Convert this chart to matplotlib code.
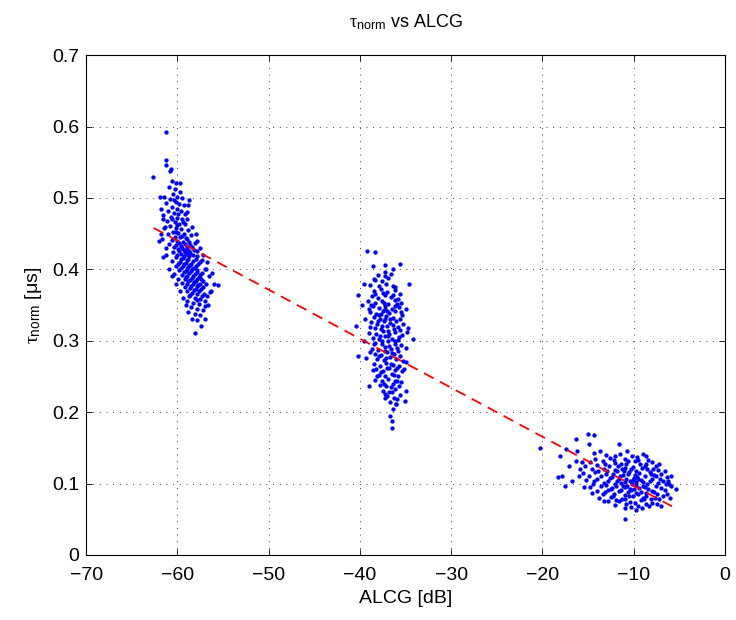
import matplotlib.pyplot as plt
import numpy as np

plt.rcParams['font.family'] = ['Liberation Sans', 'DejaVu Sans']
plt.rcParams['mathtext.fontset'] = 'custom'
plt.rcParams['mathtext.rm'] = 'Liberation Sans'
plt.rcParams['mathtext.it'] = 'Liberation Serif'

near_60 = [
    (-61.2, 0.592), (-62.7, 0.529), (-61.2, 0.553), (-61.3, 0.546), (-60.8, 0.538), (-60.6, 0.524),
    (-60.1, 0.521), (-60.9, 0.515), (-60.3, 0.512), (-59.7, 0.509), (-60.5, 0.505), (-60.0, 0.502),
    (-59.5, 0.500), (-60.8, 0.498), (-61.3, 0.493), (-60.2, 0.495), (-59.8, 0.491), (-59.3, 0.490),
    (-60.6, 0.487), (-60.0, 0.485), (-61.0, 0.482), (-59.6, 0.482), (-60.4, 0.479), (-59.2, 0.478),
    (-61.6, 0.476), (-60.7, 0.474), (-60.0, 0.472), (-59.5, 0.470), (-58.9, 0.470), (-61.1, 0.468),
    (-60.3, 0.466), (-59.8, 0.464), (-59.2, 0.463), (-60.8, 0.461), (-61.5, 0.458), (-60.1, 0.458),
    (-59.6, 0.456), (-58.8, 0.455), (-60.5, 0.453), (-59.9, 0.451), (-59.3, 0.450), (-61.0, 0.449),
    (-58.5, 0.448), (-60.3, 0.446), (-59.7, 0.445), (-59.1, 0.444), (-61.7, 0.443), (-60.6, 0.441),
    (-60.0, 0.440), (-59.4, 0.439), (-58.7, 0.439), (-58.1, 0.437), (-60.9, 0.436), (-60.2, 0.434),
    (-59.6, 0.433), (-59.0, 0.432), (-58.4, 0.431), (-61.3, 0.430), (-59.9, 0.428), (-59.3, 0.427),
    (-58.7, 0.426), (-57.9, 0.425), (-60.5, 0.424), (-59.6, 0.422), (-59.0, 0.421), (-58.3, 0.420),
    (-61.6, 0.417), (-60.1, 0.417), (-59.4, 0.416), (-58.8, 0.415), (-58.0, 0.414), (-57.3, 0.413),
    (-60.6, 0.412), (-59.7, 0.410), (-59.1, 0.409), (-58.5, 0.408), (-57.7, 0.407), (-60.2, 0.405),
    (-59.4, 0.404), (-58.8, 0.403), (-58.2, 0.402), (-56.9, 0.401), (-59.8, 0.399), (-59.1, 0.398),
    (-58.5, 0.397), (-57.9, 0.396), (-57.3, 0.395), (-60.4, 0.393), (-59.5, 0.392), (-58.9, 0.391),
    (-58.3, 0.390), (-57.6, 0.389), (-59.9, 0.387), (-59.2, 0.386), (-58.6, 0.385), (-58.0, 0.384),
    (-57.2, 0.383), (-59.5, 0.381), (-58.9, 0.380), (-58.3, 0.379), (-57.7, 0.378), (-55.5, 0.378),
    (-59.2, 0.375), (-58.6, 0.374), (-58.0, 0.373), (-57.4, 0.372), (-56.4, 0.368), (-59.0, 0.369),
    (-58.4, 0.367), (-57.8, 0.366), (-57.1, 0.365), (-58.7, 0.362), (-58.1, 0.360), (-57.5, 0.359),
    (-58.9, 0.355), (-58.3, 0.353), (-57.6, 0.352), (-57.0, 0.356), (-58.5, 0.347), (-57.8, 0.345),
    (-57.2, 0.343), (-58.1, 0.338), (-57.5, 0.336), (-57.9, 0.329), (-57.4, 0.321), (-58.1, 0.311),
    (-57.0, 0.348), (-56.8, 0.362), (-61.9, 0.502), (-61.5, 0.502), (-61.8, 0.485), (-61.6, 0.470),
    (-58.7, 0.497), (-58.8, 0.490), (-59.7, 0.521), (-60.7, 0.541),
    (-60.4, 0.497), (-59.9, 0.478), (-60.6, 0.470), (-59.4, 0.466), (-60.0, 0.462), (-59.5, 0.447),
    (-60.2, 0.452), (-58.9, 0.443), (-59.8, 0.437), (-59.2, 0.435), (-58.6, 0.434), (-60.4, 0.431),
    (-59.5, 0.430), (-58.9, 0.428), (-58.2, 0.427), (-59.8, 0.425), (-59.2, 0.424), (-58.6, 0.423),
    (-60.0, 0.420), (-59.3, 0.419), (-58.7, 0.418), (-57.9, 0.418), (-59.6, 0.414), (-59.0, 0.413),
    (-58.3, 0.411), (-57.5, 0.410), (-59.9, 0.408), (-59.3, 0.407), (-58.6, 0.406), (-58.0, 0.405),
    (-59.6, 0.402), (-59.0, 0.401), (-58.4, 0.400), (-57.8, 0.399), (-59.3, 0.396), (-58.7, 0.395),
    (-58.1, 0.394), (-57.5, 0.392), (-59.1, 0.389), (-58.4, 0.388), (-57.9, 0.387), (-57.4, 0.386),
    (-58.8, 0.383), (-58.2, 0.382), (-57.5, 0.380), (-58.5, 0.377), (-57.9, 0.376), (-57.2, 0.375),
    (-58.2, 0.371), (-57.6, 0.370), (-58.6, 0.364), (-57.9, 0.357), (-57.3, 0.362),
    (-57.0, 0.400), (-56.5, 0.390), (-56.7, 0.410), (-57.2, 0.420), (-57.5, 0.430), (-56.9, 0.380),
    (-56.2, 0.395), (-57.8, 0.440), (-58.0, 0.450), (-58.4, 0.460), (-58.9, 0.480), (-62.0, 0.440),
    (-61.8, 0.450), (-61.4, 0.460), (-61.2, 0.420), (-60.9, 0.400), (-60.6, 0.390), (-60.2, 0.380),
    (-59.7, 0.370), (-59.4, 0.360), (-59.1, 0.350), (-58.8, 0.340), (-58.4, 0.330), (-57.0, 0.330),
    (-56.6, 0.350), (-56.3, 0.370), (-56.0, 0.380),
]

near_37 = [
    (-39.2, 0.426), (-38.4, 0.424), (-35.6, 0.408), (-38.6, 0.404), (-37.3, 0.406), (-40.2, 0.364),
    (-40.4, 0.321), (-40.2, 0.279), (-34.2, 0.302), (-36.5, 0.178), (-36.5, 0.187), (-36.7, 0.195),
    (-39.0, 0.237), (-34.8, 0.312), (-35.0, 0.344), (-38.5, 0.387), (-36.4, 0.400), (-37.2, 0.390),
    (-36.1, 0.375), (-35.5, 0.353), (-34.7, 0.318), (-39.0, 0.345), (-39.4, 0.330), (-39.3, 0.276),
    (-35.1, 0.216), (-36.0, 0.211), (-35.0, 0.229), (-37.3, 0.220),
    (-38.3, 0.385), (-37.6, 0.383), (-36.9, 0.388),
    (-38.9, 0.378), (-37.9, 0.376), (-37.1, 0.380), (-36.4, 0.377),
    (-38.5, 0.370), (-37.7, 0.372), (-37.0, 0.368), (-36.2, 0.371), (-35.6, 0.366),
    (-38.7, 0.362), (-38.0, 0.360), (-37.3, 0.364), (-36.6, 0.361), (-35.8, 0.359),
    (-39.1, 0.355), (-38.3, 0.353), (-37.6, 0.356), (-36.9, 0.352), (-36.2, 0.357),
    (-38.6, 0.348), (-37.9, 0.346), (-37.2, 0.349), (-36.5, 0.345), (-35.7, 0.347),
    (-38.9, 0.340), (-38.2, 0.338), (-37.5, 0.342), (-36.8, 0.339), (-36.1, 0.341), (-35.4, 0.336),
    (-38.5, 0.333), (-37.8, 0.331), (-37.1, 0.335), (-36.4, 0.332), (-35.6, 0.330),
    (-38.8, 0.326), (-38.1, 0.324), (-37.4, 0.328), (-36.7, 0.325), (-36.0, 0.327), (-35.3, 0.323),
    (-38.4, 0.318), (-37.7, 0.316), (-37.0, 0.320), (-36.3, 0.317), (-35.6, 0.315),
    (-39.0, 0.311), (-38.2, 0.309), (-37.5, 0.313), (-36.8, 0.310), (-36.1, 0.312), (-35.4, 0.308),
    (-38.6, 0.304), (-37.9, 0.302), (-37.2, 0.306), (-36.5, 0.303), (-35.8, 0.301),
    (-38.3, 0.297), (-37.6, 0.295), (-36.9, 0.299), (-36.2, 0.296), (-35.5, 0.294),
    (-38.7, 0.289), (-38.0, 0.287), (-37.3, 0.291), (-36.6, 0.288), (-35.9, 0.290),
    (-38.4, 0.282), (-37.7, 0.280), (-37.0, 0.284), (-36.3, 0.281), (-35.6, 0.279),
    (-38.1, 0.275), (-37.4, 0.273), (-36.7, 0.277), (-36.0, 0.274), (-35.3, 0.272),
    (-38.5, 0.267), (-37.8, 0.265), (-37.1, 0.269), (-36.4, 0.266), (-35.7, 0.264),
    (-38.2, 0.260), (-37.5, 0.258), (-36.8, 0.262), (-36.1, 0.259), (-35.4, 0.257),
    (-37.9, 0.252), (-37.2, 0.250), (-36.5, 0.254), (-35.8, 0.251),
    (-38.3, 0.245), (-37.6, 0.243), (-36.9, 0.247), (-36.2, 0.244), (-35.5, 0.242),
    (-37.8, 0.238), (-37.1, 0.236), (-36.4, 0.240), (-35.7, 0.237),
    (-37.5, 0.230), (-36.8, 0.228), (-36.1, 0.232),
    (-37.0, 0.222), (-36.3, 0.220), (-35.6, 0.224),
    (-36.7, 0.214), (-36.0, 0.212), (-36.4, 0.205),
    (-37.4, 0.353), (-36.7, 0.331), (-37.6, 0.321), (-36.9, 0.306), (-37.3, 0.285),
    (-36.6, 0.268), (-37.8, 0.307), (-37.0, 0.342), (-37.7, 0.338), (-36.8, 0.292),
    (-38.0, 0.392), (-37.3, 0.396), (-36.6, 0.393), (-38.4, 0.365), (-37.5, 0.367), (-36.4, 0.364),
    (-35.9, 0.352), (-38.8, 0.350), (-37.9, 0.336), (-37.3, 0.345), (-36.2, 0.348), (-35.5, 0.340),
    (-38.9, 0.319), (-38.0, 0.328), (-37.2, 0.330), (-36.4, 0.322), (-35.8, 0.319), (-38.5, 0.296),
    (-37.6, 0.300), (-36.9, 0.314), (-36.1, 0.300), (-35.7, 0.305), (-38.9, 0.284), (-37.9, 0.278),
    (-37.1, 0.276), (-36.5, 0.283), (-35.8, 0.285), (-38.6, 0.259), (-37.7, 0.256), (-37.0, 0.262),
    (-36.3, 0.252), (-35.9, 0.262), (-38.1, 0.250), (-37.4, 0.240), (-36.6, 0.235), (-35.9, 0.244),
    (-37.2, 0.225), (-36.5, 0.228), (-35.9, 0.218), (-39.6, 0.300), (-39.8, 0.350), (-34.9, 0.270),
    (-35.2, 0.260), (-39.5, 0.380), (-34.6, 0.380), (-35.0, 0.290),
]

near_10 = [
    (-20.3, 0.150), (-15.0, 0.170), (-14.4, 0.168), (-16.3, 0.162), (-11.6, 0.155), (-18.1, 0.139),
    (-18.3, 0.109), (-17.9, 0.110), (-17.5, 0.096), (-16.8, 0.104), (-10.9, 0.050), (-5.4, 0.092),
    (-5.9, 0.110), (-6.0, 0.080), (-7.0, 0.068), (-7.8, 0.112), (-17.4, 0.149), (-16.2, 0.145),
    (-16.3, 0.131), (-15.7, 0.130), (-17.1, 0.124), (-14.9, 0.155), (-13.7, 0.146), (-14.4, 0.143),
    (-13.0, 0.140), (-11.5, 0.142), (-10.2, 0.139), (-9.0, 0.141),
    (-14.2, 0.135), (-12.6, 0.136), (-11.0, 0.134), (-9.6, 0.137), (-8.4, 0.133),
    (-14.8, 0.130), (-13.4, 0.131), (-12.0, 0.129), (-10.6, 0.132), (-9.3, 0.128), (-8.0, 0.130),
    (-15.3, 0.125), (-14.0, 0.126), (-12.7, 0.124), (-11.4, 0.127), (-10.1, 0.123), (-8.8, 0.125), (-7.6, 0.124),
    (-14.6, 0.120), (-13.3, 0.121), (-12.1, 0.119), (-10.9, 0.122), (-9.7, 0.118), (-8.5, 0.120), (-7.3, 0.119),
    (-15.6, 0.115), (-14.2, 0.116), (-13.0, 0.114), (-11.8, 0.117), (-10.6, 0.113), (-9.4, 0.115), (-8.2, 0.116), (-7.0, 0.114),
    (-14.9, 0.110), (-13.6, 0.111), (-12.4, 0.109), (-11.2, 0.112), (-10.0, 0.108), (-8.8, 0.110), (-7.6, 0.111), (-6.3, 0.109),
    (-15.2, 0.105), (-14.0, 0.106), (-12.8, 0.104), (-11.6, 0.107), (-10.4, 0.103), (-9.2, 0.105), (-8.0, 0.106), (-6.8, 0.104),
    (-14.5, 0.100), (-13.3, 0.101), (-12.1, 0.099), (-10.9, 0.102), (-9.7, 0.098), (-8.5, 0.100), (-7.3, 0.101), (-6.1, 0.099),
    (-14.8, 0.095), (-13.6, 0.096), (-12.4, 0.094), (-11.2, 0.097), (-10.0, 0.093), (-8.8, 0.095), (-7.6, 0.096),
    (-14.0, 0.090), (-12.8, 0.091), (-11.6, 0.089), (-10.4, 0.092), (-9.2, 0.088), (-8.0, 0.090), (-6.6, 0.091),
    (-13.4, 0.085), (-12.2, 0.086), (-11.0, 0.084), (-9.8, 0.087), (-8.6, 0.083), (-7.4, 0.085),
    (-13.8, 0.080), (-12.5, 0.081), (-11.3, 0.079), (-10.1, 0.082), (-8.9, 0.078), (-7.7, 0.080),
    (-12.8, 0.075), (-11.6, 0.076), (-10.4, 0.074), (-9.2, 0.077), (-8.0, 0.073),
    (-12.1, 0.070), (-10.8, 0.071), (-9.5, 0.069), (-8.3, 0.068),
    (-11.0, 0.065), (-9.7, 0.063),
    (-11.3, 0.120), (-10.5, 0.116), (-9.9, 0.112), (-10.8, 0.107), (-9.5, 0.106), (-10.2, 0.099),
    (-11.0, 0.095), (-9.4, 0.094), (-10.6, 0.088), (-11.8, 0.104), (-12.3, 0.113), (-9.0, 0.102),
    (-13.1, 0.128), (-12.2, 0.133), (-11.7, 0.124), (-10.8, 0.127), (-9.9, 0.131), (-8.7, 0.127),
    (-7.9, 0.121), (-13.9, 0.118), (-12.9, 0.117), (-11.5, 0.110), (-10.3, 0.121), (-9.1, 0.122),
    (-8.1, 0.113), (-7.1, 0.107), (-6.5, 0.100), (-14.3, 0.103), (-13.0, 0.098), (-12.6, 0.108),
    (-11.9, 0.096), (-11.4, 0.101), (-10.7, 0.097), (-10.1, 0.105), (-9.6, 0.109), (-9.0, 0.097),
    (-8.4, 0.093), (-8.2, 0.103), (-7.8, 0.088), (-7.0, 0.094), (-6.4, 0.086), (-12.3, 0.083),
    (-11.4, 0.091), (-10.5, 0.083), (-9.5, 0.085), (-8.7, 0.087), (-8.1, 0.079), (-7.2, 0.078),
    (-6.8, 0.083), (-11.9, 0.077), (-10.9, 0.078), (-9.9, 0.073), (-9.0, 0.080), (-8.6, 0.072),
    (-7.4, 0.071), (-10.3, 0.067), (-9.1, 0.066), (-12.5, 0.093), (-13.1, 0.088), (-15.9, 0.121),
    (-16.0, 0.110), (-15.5, 0.095), (-14.6, 0.087), (-13.2, 0.076), (-12.0, 0.138), (-10.7, 0.145),
    (-9.5, 0.133), (-8.6, 0.138), (-7.2, 0.127), (-6.6, 0.118), (-6.2, 0.104), (-5.9, 0.097),
    (-10.3, 0.091), (-9.7, 0.102), (-11.1, 0.117),
]

# linear fit drawn as red dashed line (end points)
fit_x = [-62.6, -5.8]
fit_y = [0.458, 0.068]

fig = plt.figure(figsize=(7.36, 6.2), dpi=100)
ax = fig.add_axes([0.117, 0.105, 0.868, 0.806])

for pts in (near_60, near_37, near_10):
    arr = np.array(pts)
    ax.plot(arr[:, 0], arr[:, 1], 'o', color='#0000ff', markersize=3.1, markeredgewidth=0)

ax.plot(fit_x, fit_y, '--', color='#ff0000', linewidth=1.3, dashes=(6, 4))

ax.set_xlim(-70, 0)
ax.set_ylim(0, 0.7)
ax.set_xticks(np.arange(-70, 1, 10))
ax.set_yticks(np.arange(0, 0.71, 0.1))
ax.set_xticklabels(['\u221270', '\u221260', '\u221250', '\u221240', '\u221230', '\u221220', '\u221210', '0'])
ax.set_yticklabels(['0', '0.1', '0.2', '0.3', '0.4', '0.5', '0.6', '0.7'])
ax.tick_params(direction='in', length=4, width=0.6, top=True, right=True, labelsize=14)
ax.tick_params(axis='x', pad=9)
ax.tick_params(axis='y', pad=5)
ax.grid(True, linestyle=(0, (1, 7)), color='black', linewidth=0.6)
for s in ax.spines.values():
    s.set_linewidth(0.8)

ax.set_xlabel('ALCG [dB]', fontsize=14, labelpad=4)
ax.set_ylabel('$\\tau_{\\mathrm{norm}}$ [\u03bcs]', fontsize=14, labelpad=6)
ax.set_title('$\\tau_{\\mathrm{norm}}$ vs ALCG', fontsize=13, pad=20)

fig.savefig('out.png', dpi=100)
